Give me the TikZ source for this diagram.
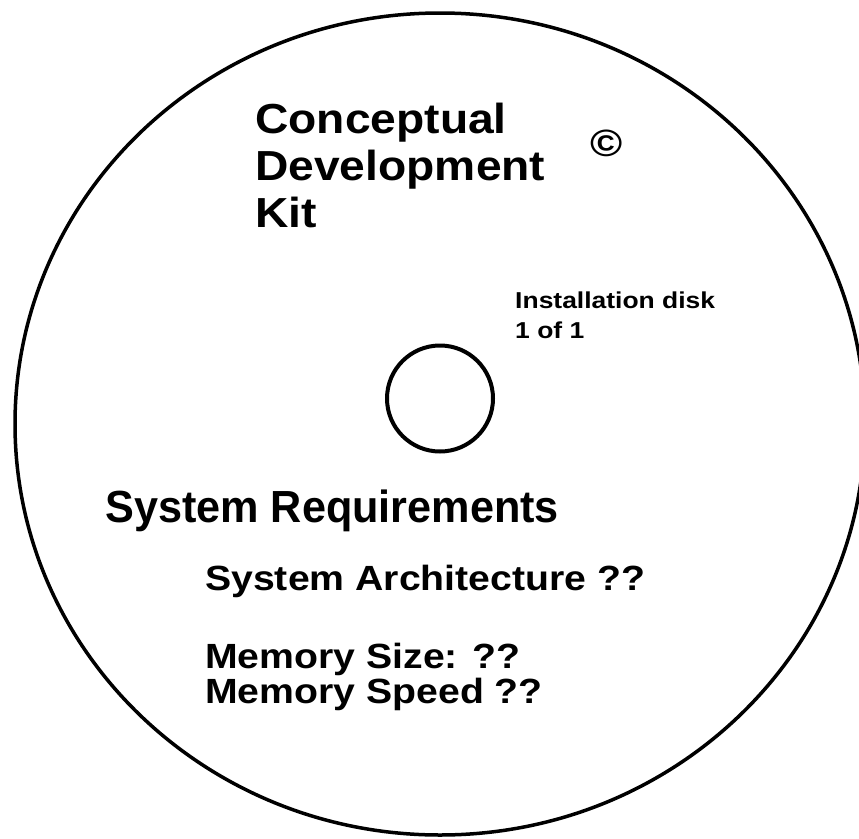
\documentclass[tikz,border=0pt]{standalone}
\usepackage{fontspec}
\setmainfont{Liberation Sans}
\begin{document}
\begin{tikzpicture}[x=1pt,y=-1pt,
  txt/.style={inner sep=0pt, anchor=base west},
  big/.style={font=\bfseries\fontsize{42}{42}\selectfont, xscale=1.10},
  head/.style={font=\bfseries\fontsize{45}{45}\selectfont, xscale=0.96},
  mid/.style={font=\bfseries\fontsize{35}{35}\selectfont, xscale=1.12},
  small/.style={font=\bfseries\fontsize{23}{23}\selectfont, xscale=1.15},
  rim/.style={line width=3.5pt},
  hole/.style={line width=4pt}]
\useasboundingbox (0,0) rectangle (859,838);
\draw[rim] (440,424) ellipse [x radius=425pt, y radius=411pt];
\draw[hole] (440,398.5) circle [radius=53pt];
\node[txt, big] (t1) at (255,133) {Conceptual};
\node[txt, big] (t2) at (255,180) {Development};
\node[txt, big] (t3) at (255,227) {Kit};
\node[inner sep=0pt, font=\bfseries\fontsize{38}{38}\selectfont, xscale=1.15] (copy) at (607,143) {©};
\node[txt, small] (i1) at (515,308) {Installation disk};
\node[txt, small] (i2) at (515,338) {1 of 1};
\node[txt, head] (sr) at (105,522) {System Requirements};
\node[txt, mid] (sa) at (205,590) {System Architecture ??};
\node[txt, mid] (ms) at (205,668) {Memory Size: ??};
\node[txt, mid] (msp) at (205,703) {Memory Speed ??};
\end{tikzpicture}
\end{document}
